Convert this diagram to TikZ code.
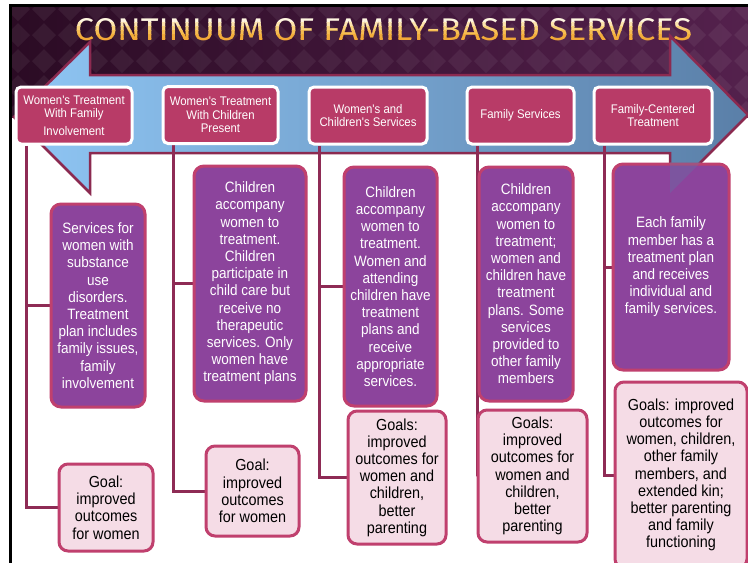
\documentclass[tikz,border=0pt]{standalone}
\usepackage{fontspec}
\setmainfont{Liberation Sans}
\newfontfamily\nfont[FakeStretch=0.9]{Liberation Sans}
\newfontfamily\hfont[FakeStretch=0.91]{Liberation Sans}
\newfontfamily\tfont{Fira Sans}
\usetikzlibrary{calc}
\definecolor{hdrfill}{HTML}{B83B67}
\definecolor{pfill}{HTML}{8C449C}
\definecolor{pborder}{HTML}{C0406E}
\definecolor{gfill}{HTML}{F5DCE6}
\definecolor{conncol}{HTML}{8E2B55}
\definecolor{arrowline}{HTML}{8B2A50}
\definecolor{arrowL}{HTML}{8FC6F4}
\definecolor{arrowR}{HTML}{5A7FA8}
\definecolor{bgdark}{HTML}{2B0B24}
\definecolor{bgright}{HTML}{54214D}
\newcommand\mytitletext{CONTINUUM OF FAMILY-BASED SERVICES}
\pgfdeclarelayer{backlayer}
\pgfdeclarelayer{connlayer}
\pgfsetlayers{backlayer,connlayer,main}
\tikzset{
  hbox/.style={draw=white, line width=3pt, fill=hdrfill, rounded corners=5pt,
    text=white, font=\hfont\fontsize{12.5}{13.5}\selectfont, align=center, inner sep=0pt},
  pbox/.style={draw=pborder, line width=3pt, fill=pfill, rounded corners=10pt,
    text=white, font=\nfont\fontsize{15}{17.2}\selectfont, align=center, inner sep=0pt},
  gbox/.style={draw=pborder, line width=3pt, fill=gfill, rounded corners=9pt,
    text=black, font=\nfont\fontsize{16}{17.2}\selectfont, align=center, inner sep=0pt},
  conn/.style={draw=conncol, line width=3pt},
  titlestyle/.style={anchor=base, inner sep=0pt},
}
\begin{document}
\begin{tikzpicture}[x=1pt, y=-1pt]
\useasboundingbox (0,0) rectangle (748,563);
\begin{pgfonlayer}{backlayer}
\fill[white] (0,0) rectangle (748,563);
% header band
\shade[left color=bgdark, right color=bgright] (12,7) rectangle (748,117);
\begin{scope}
  \clip (12,7) rectangle (748,117);
  \foreach \i in {0,...,29} {
    \foreach \j in {0,...,5} {
      \fill[white, opacity=0.06] ({\i*26+6},{\j*26+9}) -- ++(12,-12) -- ++(12,12) -- ++(-12,12) -- cycle;
    }
  }
\end{scope}
% frame
\fill[black] (9,4) rectangle (748,7);
\fill[black] (9,4) rectangle (12,563);
% title with gradient bands
\foreach \ya/\yb/\col [count=\k] in {8/22/FFF6E0, 22/26/FCE4AE, 26/30/F9D27A, 30/34/F6BD52, 34/38/F3AD3A, 38/48/F2A838} {
  \begin{scope}
    \clip (0,\ya) rectangle (748,\yb);
    \definecolor{bandcol}{HTML}{\col}
    \node[titlestyle, text=bandcol] (title\k) at (383.5,40) {\resizebox{617pt}{22pt}{\tfont\mytitletext}};
  \end{scope}
}
% arrow
\path[draw=arrowline, line width=2.5pt, left color=arrowL, right color=arrowR, line join=miter]
  (14,117) -- (90,42) -- (90,75) -- (670,75) -- (670,36) -- (748,115) -- (670,193) -- (670,153) -- (90,153) -- (90,193) -- cycle;
\end{pgfonlayer}
% header boxes
\node[hbox, minimum width=116pt, minimum height=57pt] (h1) at (74,115.5) {Women's Treatment\\With Family\\[4pt]Involvement};
\node[hbox, minimum width=115pt, minimum height=57pt] (h2) at (220.5,115) {Women's Treatment\\With Children\\Present};
\node[hbox, minimum width=118pt, minimum height=57pt] (h3) at (368,115.5) {Women's and\\Children's Services};
\node[hbox, minimum width=107pt, minimum height=57pt] (h4) at (520.5,115.5) {Family Services};
\node[hbox, minimum width=118pt, minimum height=57pt] (h5) at (653,115.5) {Family-Centered\\Treatment};
% purple boxes
\node[pbox, minimum width=94pt, minimum height=203pt] (p1) at (98,305.5) {Services for\\women with\\substance\\use\\disorders.\\Treatment\\plan includes\\family issues,\\family\\involvement};
\node[pbox, minimum width=112pt, minimum height=235pt] (p2) at (250,283.5) {Children\\accompany\\women to\\treatment.\\Children\\participate in\\child care but\\receive no\\therapeutic\\services. Only\\women have\\treatment plans};
\node[pbox, minimum width=93pt, minimum height=239pt] (p3) at (390.5,286.5) {Children\\accompany\\women to\\treatment.\\Women and\\attending\\children have\\treatment\\plans and\\receive\\appropriate\\services.};
\node[pbox, minimum width=94pt, minimum height=234pt] (p4) at (526,284) {Children\\accompany\\women to\\treatment;\\women and\\children have\\treatment\\plans. Some\\services\\provided to\\other family\\members};
\node[pbox, minimum width=116pt, minimum height=206pt] (p5) at (671,267) {Each family\\member has a\\treatment plan\\and receives\\individual and\\family services.};
\begin{scope}
  \clip (p5.north west) rectangle (p5.south east);
  \fill[arrowR, opacity=0.3] (670,153) -- (670,193) -- (748,115) -- cycle;
\end{scope}
% goal boxes
\node[gbox, minimum width=94pt, minimum height=87pt] (g1) at (106,507.5) {Goal:\\improved\\outcomes\\for women};
\node[gbox, minimum width=93pt, minimum height=90pt] (g2) at (252.5,491) {Goal:\\improved\\outcomes\\for women};
\node[gbox, minimum width=98pt, minimum height=133pt] (g3) at (397,477.5) {Goals:\\improved\\outcomes for\\women and\\children,\\better\\parenting};
\node[gbox, minimum width=109pt, minimum height=132pt] (g4) at (532.5,476) {Goals:\\improved\\outcomes for\\women and\\children,\\better\\parenting};
\node[gbox, minimum width=132pt, minimum height=186pt] (g5) at (681,475) {Goals: improved\\outcomes for\\women, children,\\other family\\members, and\\extended kin;\\better parenting\\and family\\functioning};
% connectors (behind boxes)
\begin{pgfonlayer}{connlayer}
\foreach \n in {1,...,5} {
  \draw[conn] ([xshift=12pt]h\n.south west) |- (p\n.west);
  \draw[conn] ([xshift=12pt]h\n.south west) |- (g\n.west);
}
\end{pgfonlayer}
\end{tikzpicture}
\end{document}
